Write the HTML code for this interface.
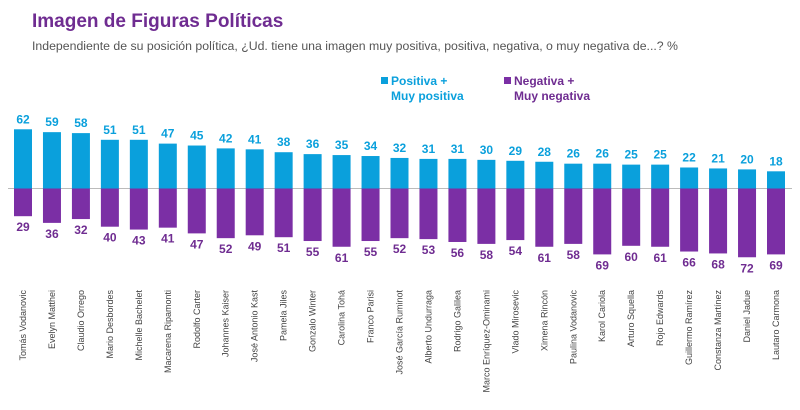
<!DOCTYPE html>
<html><head><meta charset="utf-8"><style>
html,body{margin:0;padding:0;background:#fff;width:800px;height:410px;overflow:hidden}
svg{display:block;font-family:"Liberation Sans",sans-serif}
</style></head><body>
<svg width="800" height="410" xmlns="http://www.w3.org/2000/svg">
<text x="32" y="27" font-size="19" font-weight="bold" fill="#6f2c91">Imagen de Figuras Políticas</text>
<text x="32" y="50" font-size="12.3" fill="#555">Independiente de su posición política, ¿Ud. tiene una imagen muy positiva, positiva, negativa, o muy negativa de...? %</text>
<rect x="381" y="77" width="7" height="7" fill="#0aa0dc"/>
<text x="391" y="85" font-size="12" font-weight="bold" fill="#0aa0dc">Positiva +</text>
<text x="391" y="100" font-size="12" font-weight="bold" fill="#0aa0dc">Muy positiva</text>
<rect x="504" y="77" width="7" height="7" fill="#7b2fa5"/>
<text x="514" y="85" font-size="12" font-weight="bold" fill="#6f2c91">Negativa +</text>
<text x="514" y="100" font-size="12" font-weight="bold" fill="#6f2c91">Muy negativa</text>
<line x1="8" y1="188.5" x2="792" y2="188.5" stroke="#bbb" stroke-width="1"/>
<g id="bars"></g>
</svg>
<script>
var d=[["Tomás Vodanovic",62,29],["Evelyn Matthei",59,36],["Claudio Orrego",58,32],["Mario Desbordes",51,40],["Michelle Bachelet",51,43],["Macarena Ripamonti",47,41],["Rodolfo Carter",45,47],["Johannes Kaiser",42,52],["José Antonio Kast",41,49],["Pamela Jiles",38,51],["Gonzalo Winter",36,55],["Carolina Tohá",35,61],["Franco Parisi",34,55],["José García Ruminot",32,52],["Alberto Undurraga",31,53],["Rodrigo Galilea",31,56],["Marco Enríquez-Ominami",30,58],["Vlado Mirosevic",29,54],["Ximena Rincón",28,61],["Paulina Vodanovic",26,58],["Karol Cariola",26,69],["Arturo Squella",25,60],["Rojo Edwards",25,61],["Guillermo Ramírez",22,66],["Constanza Martínez",21,68],["Daniel Jadue",20,72],["Lautaro Carmona",18,69]];
d=d.filter(function(r){return r[0]!=="Rodrigo Galilea"||true});
// 27 entries listed from image; recompute spacing
var g=document.getElementById("bars"),s="",n=d.length,x0=14,step=(767-14)/(n-1),k=0.955,b=188.5;
for(var i=0;i<n;i++){var x=x0+i*step,c=x+9,p=d[i][1]*k,q=d[i][2]*k;
s+='<rect x="'+x+'" y="'+(b-p)+'" width="18" height="'+p+'" fill="#0aa0dc"/>';
s+='<rect x="'+x+'" y="'+b+'" width="18" height="'+q+'" fill="#7b2fa5"/>';
s+='<text x="'+c+'" y="'+(b-p-6)+'" font-size="12" font-weight="bold" fill="#0aa0dc" text-anchor="middle">'+d[i][1]+'</text>';
s+='<text x="'+c+'" y="'+(b+q+15)+'" font-size="12" font-weight="bold" fill="#6f2c91" text-anchor="middle">'+d[i][2]+'</text>';
s+='<text transform="translate('+(c+3)+',290) rotate(-90)" font-size="9" fill="#444" text-anchor="end">'+d[i][0]+'</text>';}
g.innerHTML=s;
</script>
</body></html>
